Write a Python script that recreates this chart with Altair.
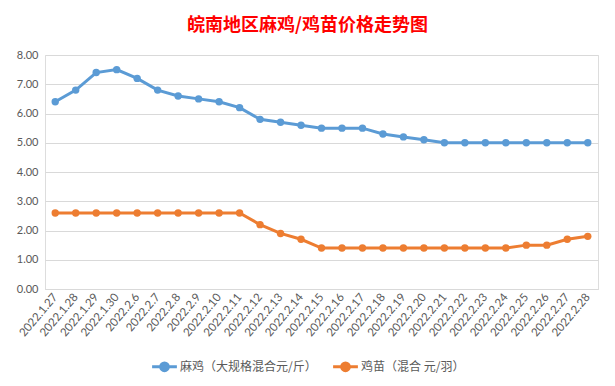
import altair as alt
import pandas as pd

dates = ["2022.1.27", "2022.1.28", "2022.1.29", "2022.1.30", "2022.2.6", "2022.2.7",
         "2022.2.8", "2022.2.9", "2022.2.10", "2022.2.11", "2022.2.12", "2022.2.13",
         "2022.2.14", "2022.2.15", "2022.2.16", "2022.2.17", "2022.2.18", "2022.2.19",
         "2022.2.20", "2022.2.21", "2022.2.22", "2022.2.23", "2022.2.24", "2022.2.25",
         "2022.2.26", "2022.2.27", "2022.2.28"]
maji = [6.4, 6.8, 7.4, 7.5, 7.2, 6.8, 6.6, 6.5, 6.4, 6.2, 5.8, 5.7, 5.6,
        5.5, 5.5, 5.5, 5.3, 5.2, 5.1, 5.0, 5.0, 5.0, 5.0, 5.0, 5.0, 5.0, 5.0]
jimiao = [2.6, 2.6, 2.6, 2.6, 2.6, 2.6, 2.6, 2.6, 2.6, 2.6, 2.2, 1.9, 1.7,
          1.4, 1.4, 1.4, 1.4, 1.4, 1.4, 1.4, 1.4, 1.4, 1.4, 1.5, 1.5, 1.7, 1.8]
series = ["麻鸡（大规格混合元/斤）", "鸡苗（混合 元/羽）"]
colors = ["#5B9BD5", "#ED7D31"]

rows = []
for d, a, b in zip(dates, maji, jimiao):
    rows.append({"date": d, "series": series[0], "value": a})
    rows.append({"date": d, "series": series[1], "value": b})
df = pd.DataFrame(rows)

num_font = "Lato"
cjk_font = "Noto Sans CJK SC"

color = alt.Color(
    "series:N",
    scale=alt.Scale(domain=series, range=colors),
    legend=alt.Legend(
        title=None, orient="none", direction="horizontal",
        legendX=110, legendY=302,
        labelFont=cjk_font, labelFontSize=12, labelColor="#595959",
        symbolType="M-1.6,0L1.6,0M-0.5,0A0.5,0.5 0 1,0 0.5,0A0.5,0.5 0 1,0 -0.5,0Z",
        symbolSize=240, symbolStrokeWidth=3, columnPadding=10, labelOffset=6,
    ),
)

x = alt.X("date:O", sort=dates, scale=alt.Scale(padding=0.5),
          axis=alt.Axis(title=None, labelAngle=-50, labelFont=num_font, labelFontSize=11.5,
                        labelColor="#595959", ticks=False, domainColor="#d9d9d9",
                        labelPadding=6, grid=False))
y = alt.Y("value:Q", scale=alt.Scale(domain=[0, 8], nice=False),
          axis=alt.Axis(title=None, format=".2f", values=[0, 1, 2, 3, 4, 5, 6, 7, 8],
                        labelFont=num_font, labelFontSize=11, labelColor="#595959",
                        ticks=False, domain=False, gridColor="#d9d9d9", labelPadding=7))

chart = alt.Chart(df).mark_line(
    strokeWidth=3, point=alt.OverlayMarkDef(filled=True, size=55, opacity=1)
).encode(x=x, y=y, color=color).properties(
    width=553, height=234,
    autosize=alt.AutoSizeParams(type="none"),
    padding={"left": 37, "top": 47, "right": 8, "bottom": 86},
    title=alt.TitleParams("皖南地区麻鸡/鸡苗价格走势图", color="#FF0000", fontSize=18,
                          fontWeight="bold", font=cjk_font, anchor="middle", dx=-14,
                          offset=14),
).configure_view(stroke=None).configure(background="white")

chart.save("out.html", embed_options={"renderer": "svg", "actions": False})
